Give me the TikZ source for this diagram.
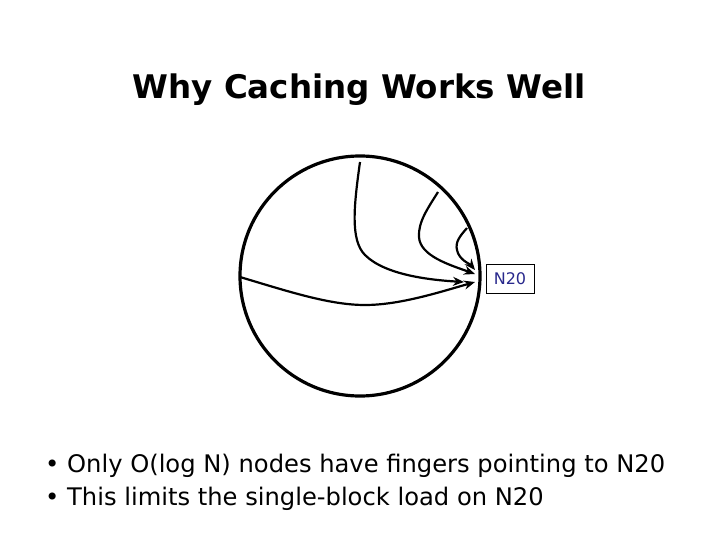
\documentclass[tikz,border=0pt]{standalone}
\usepackage{fontspec}
\setmainfont{DejaVu Sans}
\usetikzlibrary{arrows.meta}
\definecolor{nblue}{RGB}{40,40,140}
\begin{document}
\begin{tikzpicture}[x=1pt,y=-1pt,
  finger/.style={line width=2.2pt,-{Stealth[length=11pt,width=9pt]}},
  bullet/.style={anchor=west,font=\fontsize{24.2}{28}\selectfont,inner sep=0pt}]
\useasboundingbox (0,0) rectangle (720,540);
\node (title) at (359,90) {\fontsize{32.5}{38}\selectfont\bfseries Why Caching Works Well};
\node[draw,circle,line width=3.2pt,minimum size=240pt,inner sep=0pt] (ring) at (360,276) {};
\node[draw,line width=0.8pt,font=\fontsize{16}{18}\selectfont,text=nblue,minimum width=48pt,minimum height=29pt,inner sep=0pt] (n20) at (510,278.5) {N20};
\coordinate (s1) at (360,162);
\coordinate (s2) at (438,192);
\coordinate (s3) at (467,228);
\coordinate (s4) at (240,277);
\coordinate (e1) at (464,282);
\coordinate (e2) at (475,274);
\coordinate (e3) at (475,270);
\coordinate (e4) at (475,282);
\draw[finger] (s1) .. controls (354,205) and (350,240) .. (365,255) .. controls (385,275) and (430,280) .. (e1);
\draw[finger] (s2) .. controls (428,208) and (418,222) .. (419,237) .. controls (420,256) and (450,265) .. (e2);
\draw[finger] (s3) .. controls (460,236) and (455,242) .. (457,250) .. controls (459,260) and (470,264) .. (e3);
\draw[finger] (s4) .. controls (290,292) and (330,305) .. (365,305) .. controls (400,305) and (440,292) .. (e4);
\node[bullet] (b1) at (45,466) {• Only O(log N) nodes have fingers pointing to N20};
\node[bullet] (b2) at (45,499) {• This limits the single-block load on N20};
\end{tikzpicture}
\end{document}
